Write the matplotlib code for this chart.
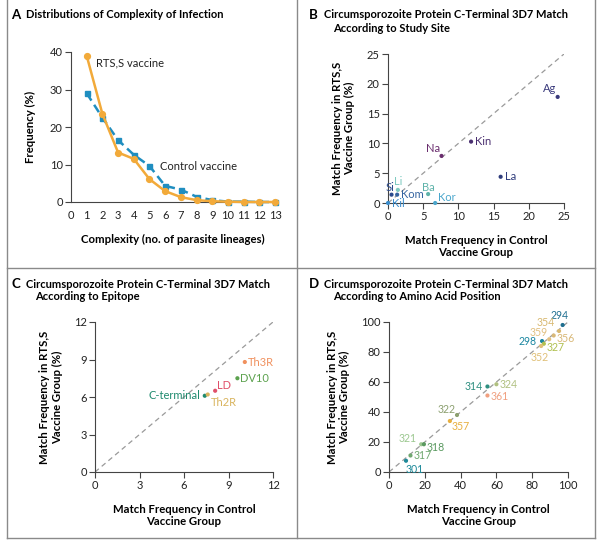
import matplotlib
matplotlib.use("Agg")
import matplotlib.pyplot as plt
from matplotlib.lines import Line2D

plt.rcParams["font.family"] = ["Lato", "DejaVu Sans"]

# Panel A: complexity of infection
complexity = list(range(1, 14))
rtss_freq = [39.0, 23.5, 13.2, 11.5, 6.1, 2.9, 1.3, 0.5, 0.2, 0.1, 0.0, 0.0, 0.0]
control_freq = [29.0, 22.5, 16.5, 12.6, 9.6, 4.3, 3.3, 1.4, 0.5, 0.1, 0.1, 0.0, 0.0]

# Panel B: study sites
site_names = ["Ag", "Kin", "Na", "La", "Si", "Kom", "Li", "Ba", "Kor", "Kil"]
site_control = [24.1, 11.8, 7.6, 16.0, 0.5, 1.3, 1.4, 5.7, 6.7, 0.0]
site_rtss = [17.8, 10.3, 7.9, 4.4, 1.4, 1.4, 2.2, 1.5, 0.0, 0.0]
site_colors = ["#3a3a7c", "#4a2f70", "#6a2d6e", "#2f3c7c", "#2b4a8c", "#3564a0",
               "#7fcac0", "#5fb3aa", "#4aa6cc", "#3a8ccc"]

# Panel C: epitopes
epi_names = ["C-terminal", "Th2R", "LD", "DV10", "Th3R"]
epi_control = [7.4, 7.6, 8.1, 9.6, 10.1]
epi_rtss = [6.1, 6.2, 6.5, 7.5, 8.8]
epi_colors = ["#1f8a6e", "#d9b45e", "#e0506a", "#5ca24e", "#f0915e"]

# Panel D: amino acid positions
aa_names = ["294", "354", "356", "359", "298", "327", "352", "314", "324", "361",
            "322", "357", "321", "318", "317", "301"]
aa_control = [97, 95, 92, 89.5, 85.5, 86.5, 85, 55, 60, 55, 38, 34, 18, 19.5, 12, 9.5]
aa_rtss = [98, 94, 91, 88.5, 87.3, 85.5, 84, 57, 58.5, 51, 38, 34, 18.5, 18.5, 11, 7.5]
aa_colors = ["#1f6f90", "#d8b870", "#d8b878", "#e2c080", "#1a86a0", "#b0c050",
             "#e0c078", "#2e8f80", "#b0c080", "#f0a080", "#8ca070", "#e8b040",
             "#9cc890", "#5a9a60", "#70a870", "#1f8a9a"]


def style_axes(ax):
    for side in ["top", "right"]:
        ax.spines[side].set_visible(False)
    for side in ["left", "bottom"]:
        ax.spines[side].set_color("#444444")
        ax.spines[side].set_linewidth(0.8)
    ax.tick_params(direction="out", length=4, width=0.8, color="#444444",
                   labelsize=8, pad=2, labelcolor="#222222")


def scatter_panel(ax, xs, ys, names, colors, offsets, lim, ticks, size=8):
    ax.plot([0, lim], [0, lim], ls=(0, (4, 3)), color="#9a9a9a", lw=0.9, zorder=1)
    ax.scatter(xs, ys, s=9, c=colors, zorder=3, linewidths=0, clip_on=False)
    for x, y, n, c in zip(xs, ys, names, colors):
        dx, dy, ha = offsets.get(n, (3, 0, "left"))
        ax.annotate(n, (x, y), xytext=(dx, dy), textcoords="offset points",
                    ha=ha, va="center", color=c, fontsize=size)
    ax.set_xlim(0, lim)
    ax.set_ylim(0, lim)
    ax.set_xticks(ticks)
    ax.set_yticks(ticks)
    style_axes(ax)
    ax.set_xlabel("Match Frequency in Control\nVaccine Group", fontsize=8.2,
                  fontweight="bold", labelpad=9, linespacing=1.15)
    ax.set_ylabel("Match Frequency in RTS,S\nVaccine Group (%)", fontsize=8.2,
                  fontweight="bold", labelpad=8, linespacing=1.15)


fig = plt.figure(figsize=(6.0, 5.45), dpi=100)

# panel frames
frame_kw = dict(color="#8a8a8a", lw=1.0, transform=fig.transFigure)
for x in [7 / 600, 297 / 600, 595 / 600]:
    fig.add_artist(Line2D([x, x], [1 - 538 / 545, 1.0], **frame_kw))
for y in [268, 538]:
    fig.add_artist(Line2D([7 / 600, 595 / 600], [1 - y / 545, 1 - y / 545], **frame_kw))


def panel_title(x_letter, y_top, letter, lines):
    fig.text(x_letter / 600, 1 - y_top / 545, letter, fontsize=9.5, fontweight="bold",
             va="center", ha="left")
    fig.text((x_letter + 15) / 600, 1 - y_top / 545, lines[0], fontsize=8,
             fontweight="bold", va="center", ha="left")
    if len(lines) > 1:
        fig.text((x_letter + 24) / 600, 1 - (y_top + 13) / 545, lines[1], fontsize=8,
                 fontweight="bold", va="center", ha="left")


panel_title(11, 15, "A", ["Distributions of Complexity of Infection"])
panel_title(309, 15, "B", ["Circumsporozoite Protein C-Terminal 3D7 Match",
                           "According to Study Site"])
panel_title(11, 284, "C", ["Circumsporozoite Protein C-Terminal 3D7 Match",
                           "According to Epitope"])
panel_title(309, 284, "D", ["Circumsporozoite Protein C-Terminal 3D7 Match",
                            "According to Amino Acid Position"])

# Panel A
axA = fig.add_axes([71 / 600, 1 - 202 / 545, 204 / 600, 150 / 545])
axA.plot(complexity, control_freq, ls=(0, (3.5, 2)), color="#1f8ec0", lw=1.8,
         marker="s", ms=3.6, zorder=2, clip_on=False)
axA.plot(complexity, rtss_freq, ls="-", color="#f2aa3a", lw=1.8, marker="o", ms=4.2,
         zorder=3, clip_on=False)
axA.set_xlim(0, 13)
axA.set_ylim(0, 40)
axA.set_xticks(range(0, 14))
axA.set_yticks([0, 10, 20, 30, 40])
style_axes(axA)
axA.tick_params(axis="x", length=0, pad=6)
axA.text(1.6, 37, "RTS,S vaccine", fontsize=8, ha="left", va="center", color="#222222")
axA.text(5.7, 9.6, "Control vaccine", fontsize=8, ha="left", va="center",
         color="#222222")
axA.set_xlabel("Complexity (no. of parasite lineages)", fontsize=8.2, fontweight="bold",
               labelpad=9)
axA.set_ylabel("Frequency (%)", fontsize=8.2, fontweight="bold", labelpad=10)

# Panel B
axB = fig.add_axes([388 / 600, 1 - 203 / 545, 176 / 600, 149 / 545])
site_off = {
    "Ag": (-1, 6, "right"),
    "Kin": (3, 0, "left"),
    "Na": (-1, 5, "right"),
    "La": (3, 0, "left"),
    "Si": (-1, 5, "center"),
    "Kom": (3, 0, "left"),
    "Li": (0, 6, "center"),
    "Ba": (0, 5, "center"),
    "Kor": (2, 4, "left"),
    "Kil": (3, 0, "left"),
}
scatter_panel(axB, site_control, site_rtss, site_names, site_colors, site_off, 25,
              [0, 5, 10, 15, 20, 25])

# Panel C
axC = fig.add_axes([95 / 600, 1 - 472 / 545, 178 / 600, 150 / 545])
epi_off = {
    "C-terminal": (-3, 0, "right"),
    "Th2R": (2, -6, "left"),
    "LD": (1, 4, "left"),
    "DV10": (2, 0, "left"),
    "Th3R": (2, 0, "left"),
}
scatter_panel(axC, epi_control, epi_rtss, epi_names, epi_colors, epi_off, 12,
              [0, 3, 6, 9, 12])

# Panel D
axD = fig.add_axes([389 / 600, 1 - 472 / 545, 179 / 600, 150 / 545])
aa_off = {
    "294": (-2, 7, "center"),
    "354": (-3, 6, "right"),
    "356": (2, -2, "left"),
    "359": (-1, 5, "right"),
    "298": (-4, 0, "right"),
    "327": (2, -3, "left"),
    "352": (-1, -8, "center"),
    "314": (-3, 0, "right"),
    "324": (2, 0, "left"),
    "361": (2, -1, "left"),
    "322": (-1, 4, "right"),
    "357": (1, -4, "left"),
    "321": (-3, 4, "right"),
    "318": (2, -2, "left"),
    "317": (2, 0, "left"),
    "301": (0, -6, "left"),
}
scatter_panel(axD, aa_control, aa_rtss, aa_names, aa_colors, aa_off, 100,
              [0, 20, 40, 60, 80, 100], size=7.6)

fig.savefig("out.png", dpi=100)
